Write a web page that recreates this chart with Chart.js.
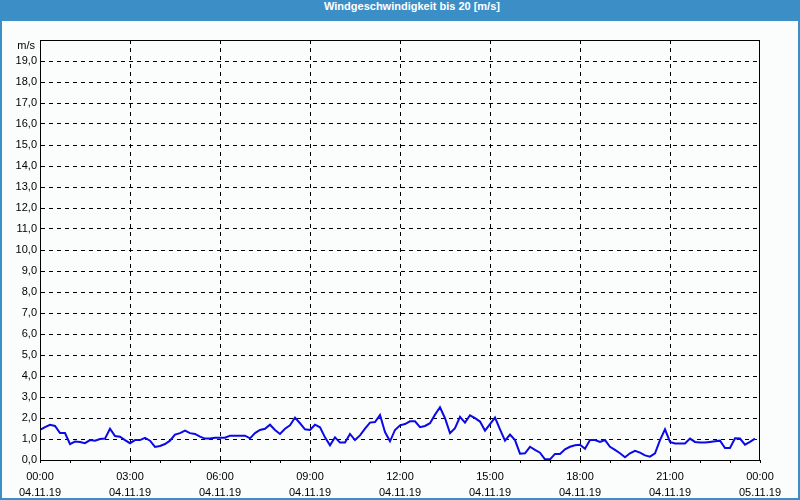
<!DOCTYPE html>
<html lang="de">
  <head>
    <meta charset="UTF-8" />
    <title>Windgeschwindigkeit</title>
    <script src="https://cdn.jsdelivr.net/npm/chart.js"></script>
    <style>
      html, body {
        margin: 0;
        padding: 0;
      }
      #frame {
        position: relative;
        width: 800px;
        height: 500px;
        box-sizing: border-box;
        background: #fbfdfc;
        border: 2px solid #3c8fc6;
        border-top: none;
        overflow: hidden;
      }
      #title {
        position: absolute;
        left: 0;
        top: 0;
        width: 820px;
        height: 21px;
        line-height: 21px;
        background: #3c8fc6;
        color: #ffffff;
        text-align: center;
        font: bold 11px "Liberation Sans", Arial, sans-serif;
      }
      #unit {
        position: absolute;
        right: 763px;
        top: 39px;
        font: 11px "Liberation Sans", Arial, sans-serif;
        color: #000;
        z-index: 2;
      }
      canvas {
        position: absolute;
        left: -2px;
        top: 0;
      }
    </style>
  </head>
  <body>
    <div id="frame">
      <div id="title">Windgeschwindigkeit bis 20 [m/s]</div>
      <div id="unit"></div>
      <canvas id="windChart" width="800" height="500"></canvas>
    </div>

    <script>
      // Messwerte alle 10 Minuten, 04.11.19 00:00 bis 23:50 (m/s)
      const sampleStepMinutes = 10;
      const windSpeed = [
        1.43, 1.57, 1.68, 1.62, 1.28, 1.28, 0.76, 0.88, 0.86, 0.8, 0.95, 0.92,
        1.0, 1.02, 1.49, 1.14, 1.11, 0.95, 0.8, 0.95, 0.95, 1.05, 0.92, 0.62,
        0.67, 0.76, 0.92, 1.21, 1.28, 1.4, 1.28, 1.24, 1.11, 1.02, 1.02, 1.06,
        1.06, 1.06, 1.16, 1.16, 1.16, 1.16, 1.03, 1.28, 1.43, 1.49, 1.68, 1.43,
        1.24, 1.49, 1.65, 2.02, 1.75, 1.46, 1.43, 1.68, 1.56, 1.08, 0.7, 1.08,
        0.83, 0.83, 1.24, 0.95, 1.17, 1.49, 1.78, 1.81, 2.14, 1.33, 0.89, 1.43,
        1.65, 1.71, 1.84, 1.84, 1.56, 1.62, 1.75, 2.16, 2.51, 1.99, 1.28, 1.52,
        2.06, 1.78, 2.13, 1.99, 1.83, 1.4, 1.71, 2.02, 1.46, 0.92, 1.21, 0.95,
        0.3, 0.32, 0.63, 0.48, 0.35, 0.03, 0.03, 0.29, 0.29, 0.51, 0.63, 0.7,
        0.73, 0.54, 0.95, 0.95, 0.86, 0.95, 0.63, 0.48, 0.32, 0.13, 0.32, 0.44,
        0.35, 0.22, 0.16, 0.32, 0.95, 1.46, 0.86, 0.79, 0.79, 0.79, 1.02, 0.86,
        0.83, 0.83, 0.86, 0.89, 0.92, 0.57, 0.57, 1.03, 1.02, 0.73, 0.86, 1.02,
      ];

      // Achsenbeschriftung
      const xTickTimes = ["00:00", "03:00", "06:00", "09:00", "12:00", "15:00", "18:00", "21:00", "00:00"];
      const xTickDates = ["04.11.19", "04.11.19", "04.11.19", "04.11.19", "04.11.19", "04.11.19", "04.11.19", "04.11.19", "05.11.19"];
      const yUnitLabel = "m/s";
      const yMax = 20;

      document.getElementById("unit").textContent = yUnitLabel;

      const points = windSpeed.map((v, i) => ({ x: (i * sampleStepMinutes) / 60, y: v }));

      const frameBox = {
        id: "frameBox",
        afterDraw(chart) {
          const { ctx, chartArea: a } = chart;
          ctx.save();
          ctx.strokeStyle = "#000";
          ctx.lineWidth = 1;
          ctx.strokeRect(a.left + 0.5, a.top + 0.5, a.right - a.left - 1, a.bottom - a.top);
          ctx.restore();
        },
      };

      const font = { family: "'Liberation Sans', Arial, sans-serif", size: 11 };

      new Chart(document.getElementById("windChart").getContext("2d"), {
        type: "line",
        data: {
          datasets: [
            {
              data: points,
              borderColor: "#0a0ae6",
              borderWidth: 2,
              pointRadius: 0,
              tension: 0,
            },
          ],
        },
        options: {
          responsive: false,
          animation: false,
          layout: { padding: { top: 40, left: 0, right: 40, bottom: 0 } },
          plugins: { legend: { display: false }, tooltip: { enabled: false } },
          scales: {
            x: {
              type: "linear",
              min: 0,
              max: 24,
              afterFit: (s) => { s.height = 40; },
              ticks: {
                stepSize: 1,
                autoSkip: false,
                maxRotation: 0,
                padding: 6,
                color: "#000",
                font: { ...font, lineHeight: 1.45 },
                callback: (v) => (v % 3 === 0 ? [xTickTimes[v / 3], xTickDates[v / 3]] : ""),
              },
              grid: {
                color: (c) => {
                  const v = c.tick && c.tick.value;
                  return v % 3 === 0 && v > 0 && v < 24 ? "#000" : "rgba(0,0,0,0)";
                },
                tickColor: "#000",
                tickLength: 3,
                tickBorderDash: [],
              },
              border: { color: "#000", dash: [4, 4] },
            },
            y: {
              min: 0,
              max: yMax,
              afterFit: (s) => { s.width = 40; },
              ticks: {
                stepSize: 1,
                padding: 3,
                color: "#000",
                font: font,
                callback: (v) => (v === yMax ? "" : v.toFixed(1).replace(".", ",")),
              },
              grid: {
                drawTicks: false,
                color: (c) => {
                  const v = c.tick && c.tick.value;
                  return v > 0 && v < yMax ? "#000" : "rgba(0,0,0,0)";
                },
              },
              border: { color: "#000", dash: [4, 4] },
            },
          },
        },
        plugins: [frameBox],
      });
    </script>
  </body>
</html>
